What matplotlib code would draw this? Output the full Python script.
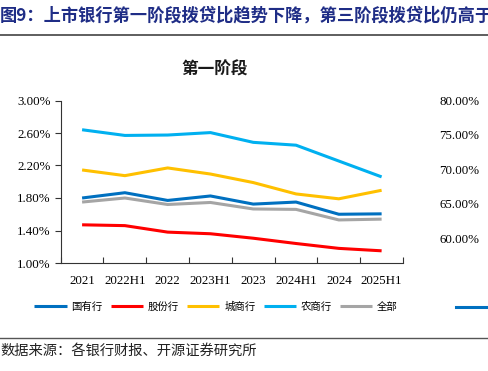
import matplotlib
matplotlib.use("Agg")
import matplotlib.pyplot as plt
from matplotlib.lines import Line2D
from matplotlib.ticker import FuncFormatter, FixedLocator

plt.rcParams['font.family'] = ['Liberation Serif', 'Noto Sans CJK SC', 'DejaVu Sans']

# 数据
periods = ['2021', '2022H1', '2022', '2023H1', '2023', '2024H1', '2024', '2025H1']
guoyou = [1.80, 1.865, 1.77, 1.825, 1.725, 1.75, 1.60, 1.605]
gufen = [1.47, 1.46, 1.38, 1.36, 1.305, 1.24, 1.18, 1.15]
chengshang = [2.145, 2.075, 2.17, 2.095, 1.99, 1.85, 1.79, 1.895]
nongshang = [2.64, 2.57, 2.575, 2.605, 2.485, 2.45, 2.255, 2.06]
quanbu = [1.75, 1.80, 1.72, 1.745, 1.665, 1.66, 1.53, 1.54]
series_names = ['国有行', '股份行', '城商行', '农商行', '全部']
left_ticks = [1.0, 1.4, 1.8, 2.2, 2.6, 3.0]
right_ticks = [60, 65, 70, 75, 80]

colors = ['#0070C0', '#FF0000', '#FFC000', '#00B0F0', '#A5A5A5']
W, H = 488, 371

fig = plt.figure(figsize=(W / 100, H / 100), dpi=100)

# 左图
ax = fig.add_axes([60.7 / W, (H - 263) / H, 342.3 / W, 162.5 / H])
x = list(range(len(periods)))
for vals, name, c in zip([guoyou, gufen, chengshang, nongshang, quanbu], series_names, colors):
    ax.plot(x, vals, color=c, lw=2.2, label=name, solid_capstyle='butt')

ax.set_xlim(-0.5, len(periods) - 0.5)
ax.set_ylim(left_ticks[0], left_ticks[-1])
ax.set_yticks(left_ticks)
ax.yaxis.set_major_formatter(FuncFormatter(lambda v, p: f'{v:.2f}%'))
ax.set_xticks(x)
ax.set_xticklabels(periods)
ax.xaxis.set_minor_locator(FixedLocator([i - 0.5 for i in range(len(periods) + 1)]))
ax.tick_params(axis='x', which='major', length=0, pad=9, labelsize=9.3)
ax.tick_params(axis='x', which='minor', direction='in', length=4, width=0.8, color='#333333')
ax.tick_params(axis='y', direction='out', length=4, width=0.8, color='#333333', labelsize=9.3, pad=3)
for s in ['top', 'right']:
    ax.spines[s].set_visible(False)
for s in ['left', 'bottom']:
    ax.spines[s].set_linewidth(0.8)
    ax.spines[s].set_color('#333333')

# 图例
ax.legend(loc='center', bbox_to_anchor=(216 / W, (H - 307) / H), bbox_transform=fig.transFigure,
          ncol=5, frameon=False, handlelength=3.1, handletextpad=0.45,
          columnspacing=0.8, prop={'family': ['Noto Sans CJK SC'], 'size': 7.5})

# 右侧被截断的第二张图坐标轴
ax2 = fig.add_axes([485 / W, (H - 263) / H, 0.005, 162.5 / H])
ax2.set_ylim(56.38, 80)
ax2.set_yticks(right_ticks)
ax2.yaxis.set_major_formatter(FuncFormatter(lambda v, p: f'{v:.2f}%'))
ax2.tick_params(axis='y', length=0, labelsize=9.3, pad=4)
ax2.set_xticks([])
for s in ax2.spines.values():
    s.set_visible(False)
ax2.patch.set_alpha(0)
fig.add_artist(Line2D([456 / W, 1.0], [(H - 307) / H] * 2, color=colors[0], lw=2.2,
                      transform=fig.transFigure))

# 标题与分隔线
fig.text(0, (H - 15) / H, '图9：上市银行第一阶段拨贷比趋势下降，第三阶段拨贷比仍高于往年',
         fontsize=12.4, fontweight='bold', color='#1F2D86', va='center', ha='left',
         family=['Noto Sans CJK SC', 'DejaVu Sans'])
fig.add_artist(Line2D([0, 1], [(H - 34.7) / H] * 2, color='#333333', lw=1.1, transform=fig.transFigure))
fig.text(215 / W, (H - 70) / H, '第一阶段', fontsize=12, fontweight='bold', color='#1a1a1a',
         ha='center', va='center', family=['Noto Sans CJK SC'])
fig.add_artist(Line2D([0, 1], [(H - 337.7) / H] * 2, color='#555555', lw=1.0, transform=fig.transFigure))
fig.text(0, (H - 351) / H, '数据来源：各银行财报、开源证券研究所', fontsize=10.3, color='#222222',
         ha='left', va='center', family=['Noto Sans CJK SC'])

fig.savefig('out.png', dpi=100)
